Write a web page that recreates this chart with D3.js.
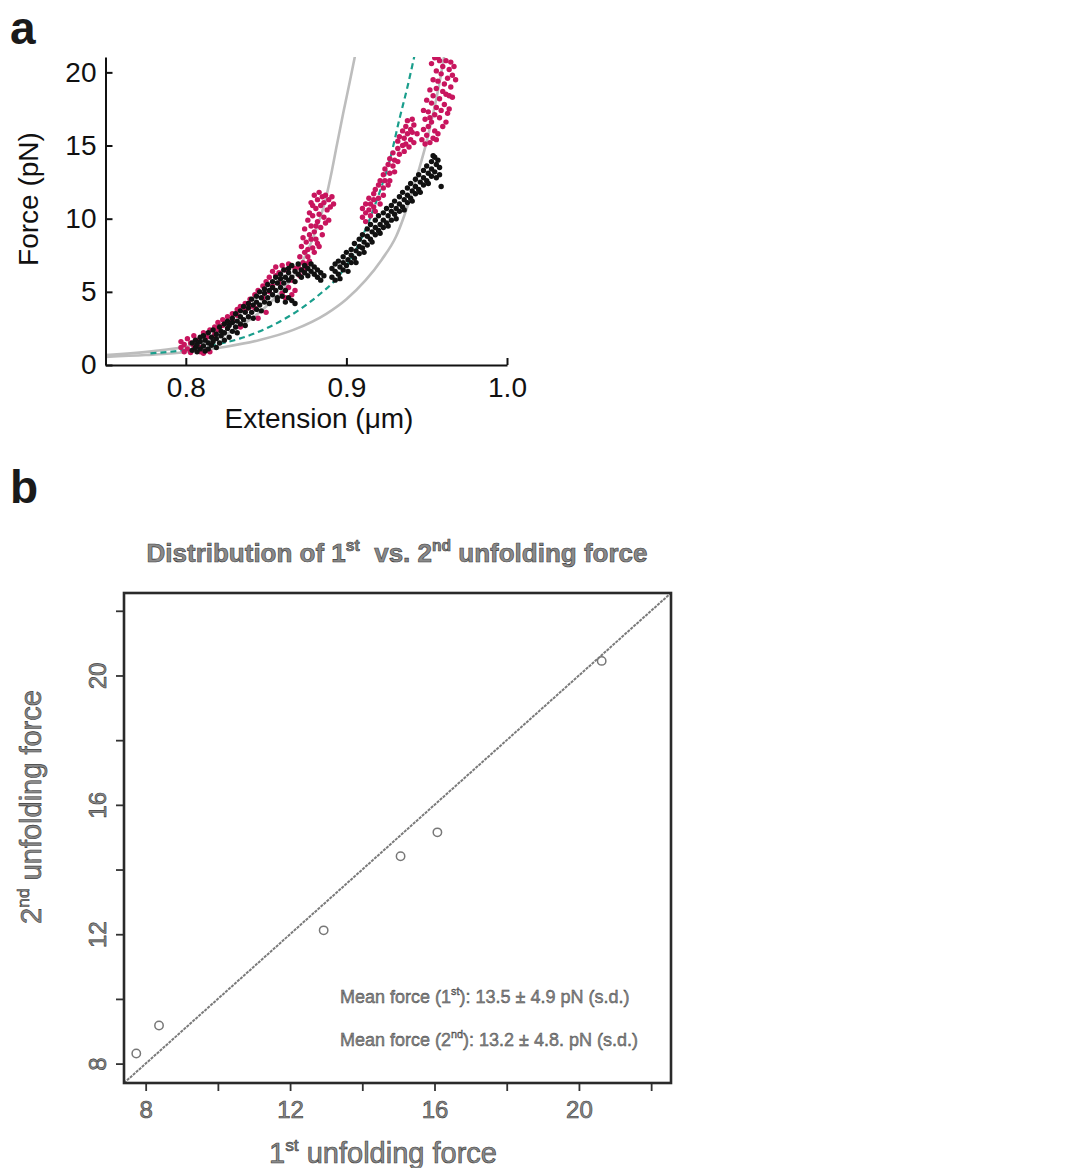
<!DOCTYPE html>
<html>
<head>
<meta charset="utf-8">
<script src="https://cdn.jsdelivr.net/npm/d3@7"></script>
<style>
  body { margin: 0; background: #fff; }
  svg text { font-family: "Liberation Sans", Arial, sans-serif; white-space: pre; }
</style>
</head>
<body>
<script>
// ---- panel a : force vs extension ----
var extTicks = [0.8, 0.9, 1.0];
var forceTicks = [0, 5, 10, 15, 20];

// worm-like-chain curves and dashed fit
var wlcLeft = [[0.75,0.68],[0.78,0.95],[0.80,1.25],[0.81,1.5],[0.82,1.85],[0.83,2.4],[0.84,3.1],[0.85,4.0],
  [0.86,5.1],[0.868,6.2],[0.875,7.6],[0.881,9.2],[0.887,11.3],[0.891,13.3],[0.894,15.0],[0.898,17.2],
  [0.902,19.3],[0.9055,21.2]];
var wlcRight = [[0.75,0.55],[0.775,0.68],[0.796,0.84],[0.825,1.25],[0.846,1.71],[0.867,2.4],[0.8875,3.5],
  [0.90,4.5],[0.912,5.8],[0.922,7.2],[0.931,8.8],[0.94,11.5],[0.945,13.3],[0.9498,15.2],[0.953,16.7],
  [0.956,18.2],[0.9585,19.6],[0.961,21.2]];
var fitDashed = [[0.778,0.8],[0.79,0.9],[0.8044,1.1],[0.821,1.45],[0.8335,1.8],[0.852,2.6],[0.871,3.8],
  [0.883,4.8],[0.893,5.8],[0.903,7.3],[0.912,9.3],[0.92,11.6],[0.927,14.0],[0.933,16.8],[0.938,19.0],[0.9425,21.2]];

// pulling traces (magenta) and relaxing traces (black), [extension, force]
var pinkTrace1 = [[0.797,1.6],[0.797,1.2],[0.799,1.4],[0.799,0.9],[0.801,1.8],[0.801,1.1],[0.803,0.85],
  [0.803,1.5],[0.805,2.0],[0.805,1.3],[0.807,1.7],[0.809,0.9],[0.809,1.2],[0.811,0.8],[0.811,2.2],
  [0.813,1.0],[0.813,1.9],[0.815,2.4],[0.815,0.9],[0.818,2.1],[0.818,2.6],[0.820,2.9],[0.820,2.4],
  [0.823,2.7],[0.823,3.1],[0.826,3.3],[0.826,2.9],[0.829,3.5],[0.829,3.0],[0.832,3.8],[0.832,3.4],
  [0.834,2.6],[0.834,4.0],[0.837,4.2],[0.837,3.7],[0.840,4.5],[0.840,4.0],[0.843,4.8],[0.843,3.9],
  [0.845,3.2],[0.845,5.1],[0.848,5.4],[0.848,4.6],[0.850,3.6],[0.850,5.7],[0.852,6.0],[0.852,5.0],
  [0.854,6.4],[0.854,5.4],[0.856,6.7],[0.856,6.1],[0.858,6.3],[0.858,5.6],[0.860,6.8],[0.860,4.9],
  [0.862,6.5],[0.862,4.6],[0.864,5.3],[0.864,6.9],[0.866,4.8],[0.866,5.8],[0.868,5.1],[0.868,6.6],
  [0.870,6.7],[0.871,7.4],[0.872,6.5],[0.872,8.1],[0.873,7.0],[0.873,8.7],[0.874,7.7],[0.874,9.3],
  [0.875,6.9],[0.875,8.4],[0.876,9.9],[0.876,7.4],[0.877,10.4],[0.877,8.9],[0.878,9.5],[0.878,11.1],
  [0.879,8.0],[0.879,10.2],[0.880,11.6],[0.880,9.1],[0.881,10.7],[0.881,8.6],[0.882,11.3],[0.882,9.8],
  [0.883,10.3],[0.883,11.8],[0.884,9.4],[0.884,10.9],[0.885,11.5],[0.885,8.9],[0.886,10.1],[0.886,11.1],
  [0.887,9.7],[0.887,11.6],[0.888,10.6],[0.889,11.3],[0.889,9.9],[0.890,10.8],[0.891,11.5],[0.892,11.0],
  [0.876,7.9],[0.878,8.6],[0.880,7.7],[0.882,8.3],[0.871,6.1],[0.874,6.6],[0.877,7.1],[0.879,10.9],
  [0.881,9.5],[0.883,8.1]];
var pinkTrace2 = [[0.910,10.1],[0.910,10.7],[0.912,9.8],[0.912,11.0],[0.912,10.4],[0.914,10.6],[0.914,11.4],
  [0.915,10.2],[0.915,11.0],[0.917,11.7],[0.917,10.8],[0.917,11.3],[0.918,10.5],[0.918,12.0],[0.920,11.4],
  [0.920,12.3],[0.921,11.0],[0.921,12.6],[0.923,12.1],[0.923,13.0],[0.923,11.6],[0.924,12.6],[0.924,13.4],
  [0.926,12.3],[0.926,13.7],[0.927,13.1],[0.927,14.1],[0.927,12.6],[0.929,13.6],[0.929,14.5],[0.930,13.2],
  [0.930,14.0],[0.932,14.8],[0.932,13.9],[0.932,15.3],[0.933,14.4],[0.933,15.6],[0.935,15.0],[0.935,16.0],
  [0.936,14.6],[0.936,15.5],[0.937,16.3],[0.937,15.1],[0.938,15.8],[0.938,16.7],[0.940,16.1],[0.940,15.4],
  [0.941,16.8],[0.941,15.9],[0.942,16.4],[0.942,15.2],[0.939,14.9],[0.944,15.8]];
var pinkTrace3 = [[0.947,15.4],[0.948,16.1],[0.949,15.1],[0.949,16.8],[0.950,15.7],[0.951,17.3],[0.951,16.3],
  [0.952,15.2],[0.953,17.9],[0.953,16.6],[0.954,15.5],[0.954,18.4],[0.955,17.1],[0.955,16.0],[0.956,18.9],
  [0.956,17.6],[0.957,15.8],[0.957,19.4],[0.958,18.2],[0.958,16.9],[0.959,19.9],[0.959,17.4],[0.960,18.7],
  [0.960,20.4],[0.961,19.2],[0.961,17.8],[0.962,20.8],[0.962,18.5],[0.963,19.6],[0.963,17.2],[0.964,20.2],
  [0.964,18.4],[0.965,19.0],[0.965,20.7],[0.966,19.8],[0.966,18.3],[0.967,20.4],[0.968,19.5],[0.950,18.1],
  [0.952,18.8],[0.954,19.5],[0.956,20.1],[0.958,20.8],[0.952,16.9],[0.956,15.4],[0.960,16.3],[0.962,16.6],
  [0.964,17.5],[0.948,17.4],[0.957,21.0],[0.953,20.6],[0.955,21.0]];
var blackTrace1 = [[0.804,1.0],[0.804,1.5],[0.806,1.7],[0.806,1.2],[0.807,0.9],[0.807,1.4],[0.809,1.9],
  [0.809,1.1],[0.809,1.6],[0.811,1.3],[0.811,2.0],[0.812,0.95],[0.812,1.7],[0.814,1.5],[0.814,2.2],
  [0.814,1.1],[0.816,1.9],[0.816,1.35],[0.817,2.4],[0.817,1.6],[0.819,1.2],[0.819,2.1],[0.819,1.8],
  [0.821,2.6],[0.821,1.5],[0.822,2.0],[0.822,2.3],[0.824,1.7],[0.824,2.8],[0.824,2.2],[0.826,2.5],
  [0.826,3.0],[0.827,1.9],[0.827,2.7],[0.829,3.2],[0.829,2.3],[0.829,2.9],[0.831,2.6],[0.831,3.5],
  [0.832,3.0],[0.832,2.2],[0.834,3.7],[0.834,2.8],[0.834,3.3],[0.836,3.1],[0.836,4.0],[0.837,2.7],
  [0.837,3.6],[0.839,4.2],[0.839,3.3],[0.839,3.9],[0.841,3.6],[0.841,4.5],[0.842,3.2],[0.842,4.1],
  [0.844,4.7],[0.844,3.8],[0.844,4.3],[0.846,4.1],[0.846,5.0],[0.847,3.7],[0.847,4.6],[0.849,5.2],
  [0.849,4.3],[0.849,4.9],[0.851,4.6],[0.851,5.5],[0.852,4.2],[0.852,5.1],[0.854,5.7],[0.854,4.8],
  [0.854,5.3],[0.856,5.1],[0.856,6.0],[0.857,4.6],[0.857,5.6],[0.859,6.2],[0.859,5.3],[0.859,5.9],
  [0.861,5.6],[0.861,6.5],[0.862,5.1],[0.862,6.0],[0.864,6.6],[0.864,5.8],[0.864,6.3],[0.866,6.0],
  [0.866,6.8],[0.868,6.4],[0.868,5.7],[0.870,6.9],[0.870,6.2],[0.872,6.5],[0.872,6.0],[0.874,6.8],
  [0.874,6.3],[0.876,6.1],[0.876,6.6],[0.878,6.9],[0.878,6.4],[0.880,6.2],[0.880,6.7],[0.882,6.0],
  [0.882,6.5],[0.884,6.3],[0.884,5.8],[0.886,6.1],[0.857,4.4],[0.860,4.7],[0.862,4.3],[0.864,4.6],
  [0.866,4.4],[0.868,4.2]];
var blackTrace2 = [[0.891,6.0],[0.891,6.6],[0.893,6.9],[0.893,5.8],[0.893,6.4],[0.895,6.2],[0.895,7.1],
  [0.896,6.7],[0.896,5.9],[0.898,7.4],[0.898,6.5],[0.898,7.0],[0.900,6.8],[0.900,7.7],[0.901,7.2],
  [0.901,6.4],[0.903,7.9],[0.903,7.0],[0.903,7.5],[0.905,7.3],[0.905,8.3],[0.906,7.8],[0.906,7.0],
  [0.908,8.6],[0.908,7.6],[0.908,8.1],[0.910,8.0],[0.910,8.9],[0.911,8.4],[0.911,7.7],[0.913,9.3],
  [0.913,8.2],[0.913,8.8],[0.915,8.6],[0.915,9.6],[0.916,9.1],[0.916,8.4],[0.918,9.9],[0.918,8.9],
  [0.918,9.4],[0.920,9.2],[0.920,10.2],[0.921,9.6],[0.921,9.0],[0.923,10.4],[0.923,9.4],[0.923,9.9],
  [0.925,9.7],[0.925,10.7],[0.926,10.2],[0.926,9.5],[0.928,10.9],[0.928,9.9],[0.928,10.5],[0.930,10.3],
  [0.930,11.2],[0.931,10.7],[0.931,10.0],[0.933,11.5],[0.933,10.5],[0.933,11.0],[0.935,10.8],[0.935,11.8],
  [0.936,11.3],[0.936,10.6],[0.938,12.1],[0.938,11.1],[0.938,11.6],[0.940,11.4],[0.940,12.4],[0.941,11.9],
  [0.941,11.2],[0.943,12.7],[0.943,11.7],[0.943,12.2],[0.945,12.0],[0.945,13.0],[0.946,12.5],[0.946,11.8],
  [0.948,13.3],[0.948,12.3],[0.948,12.8],[0.950,12.6],[0.950,13.6],[0.951,13.1],[0.951,12.4],[0.953,13.9],
  [0.953,12.9],[0.953,13.4],[0.955,13.2],[0.955,14.2],[0.956,13.7],[0.956,12.8],[0.958,13.0],[0.958,13.5],
  [0.959,12.2],[0.957,14.0],[0.954,14.3]];

// ---- panel b : 1st vs 2nd unfolding force ----
var firstForce = [7.74, 8.37, 12.93, 15.06, 16.08, 20.63];
var secondForce = [8.31, 9.18, 12.12, 14.41, 15.15, 20.45];
var bTicks = [8, 10, 12, 14, 16, 18, 20, 22];
var bLabels = [8, 12, 16, 20];
var diagEnds = [7.4, 22.55];

var W = 1080, H = 1168;
var pink = '#c8155e';
var ink = '#111';
var fadedFill = '#8a8a8a';
var fadedEdge = '#3a3a3a';

var svg = d3.select('body').append('svg')
  .attr('width', W)
  .attr('height', H);

svg.append('rect').attr('width', W).attr('height', H).style('fill', '#fff');

// tiny helper for text with superscripts: parts = [[text, isSup], ...]
var richText = function(sel, parts, size) {
  var lift = Math.round(size * 0.42);
  var raised = false;
  parts.forEach(function(p) {
    var t = sel.append('tspan').text(p[0]);
    if(p[1]) { t.attr('font-size', size * 0.6); }
    if(p[1] && !raised) { t.attr('dy', -lift); raised = true; }
    else if(!p[1] && raised) { t.attr('dy', lift); raised = false; }
  });
};

var drawPanelA = function() {
  var x = d3.scaleLinear().domain([0.75, 1.0]).range([105.5, 507]);
  var y = d3.scaleLinear().domain([0, 21.05]).range([365, 57]);

  svg.append('text')
    .attr('x', 10).attr('y', 44)
    .attr('font-size', 46).attr('font-weight', 'bold')
    .style('fill', '#1a1a1a')
    .text('a');

  svg.append('defs').append('clipPath').attr('id', 'clipA')
    .append('rect')
    .attr('x', x.range()[0]).attr('y', y.range()[1])
    .attr('width', x.range()[1] - x.range()[0])
    .attr('height', y.range()[0] - y.range()[1]);

  var plot = svg.append('g').attr('clip-path', 'url(#clipA)');

  var line = d3.line()
    .x(function(d) { return x(d[0]); })
    .y(function(d) { return y(d[1]); })
    .curve(d3.curveMonotoneX);

  [wlcLeft, wlcRight].forEach(function(c) {
    plot.append('path')
      .attr('d', line(c))
      .style('fill', 'none')
      .style('stroke', '#bdbdbd')
      .style('stroke-width', 2.6);
  });

  plot.append('path')
    .attr('d', line(fitDashed))
    .style('fill', 'none')
    .style('stroke', '#1a9e8c')
    .style('stroke-width', 2.2)
    .style('stroke-dasharray', '6,4');

  var dots = function(pts, color) {
    plot.append('g').selectAll('circle')
      .data(pts)
      .enter()
      .append('circle')
      .attr('cx', function(d) { return x(d[0]); })
      .attr('cy', function(d) { return y(d[1]); })
      .attr('r', 2.7)
      .style('fill', color);
  };
  dots(pinkTrace1, pink);
  dots(pinkTrace2, pink);
  dots(pinkTrace3, pink);
  dots(blackTrace1, ink);
  dots(blackTrace2, ink);

  var yAxis = svg.append('g')
    .attr('transform', 'translate(' + x.range()[0] + ',0)')
    .call(d3.axisLeft(y).tickValues(forceTicks).tickSizeInner(-7).tickSizeOuter(0).tickPadding(9));
  var xAxis = svg.append('g')
    .attr('transform', 'translate(0,' + y.range()[0] + ')')
    .call(d3.axisBottom(x).tickValues(extTicks).tickFormat(d3.format('.1f'))
      .tickSizeInner(-7).tickSizeOuter(0).tickPadding(12));

  [xAxis, yAxis].forEach(function(a) {
    a.selectAll('path, line').style('stroke', ink).style('stroke-width', 2);
    a.selectAll('text').attr('font-size', 28).style('fill', ink)
      .style('font-family', '"Liberation Sans", Arial, sans-serif');
  });

  svg.append('text')
    .attr('x', 319).attr('y', 428)
    .attr('text-anchor', 'middle')
    .attr('font-size', 28)
    .style('fill', ink)
    .text('Extension (\u03bcm)');

  svg.append('text')
    .attr('transform', 'translate(38,199) rotate(-90)')
    .attr('text-anchor', 'middle')
    .attr('font-size', 28)
    .style('fill', ink)
    .text('Force (pN)');
};

var drawPanelB = function() {
  var x = d3.scaleLinear().domain(diagEnds).range([124, 671]);
  var y = d3.scaleLinear().domain(diagEnds).range([1083, 593]);

  svg.append('text')
    .attr('x', 10).attr('y', 503)
    .attr('font-size', 46).attr('font-weight', 'bold')
    .style('fill', '#1a1a1a')
    .text('b');

  var faded = function(sel, size) {
    return sel.attr('font-size', size)
      .style('fill', fadedFill)
      .style('stroke', fadedEdge)
      .style('stroke-width', 0.6);
  };

  var title = svg.append('text')
    .attr('x', 397).attr('y', 562)
    .attr('text-anchor', 'middle')
    .attr('font-weight', 'bold');
  faded(title, 26);
  richText(title, [['Distribution of 1', false], ['st', true], ['  vs. 2', false], ['nd', true], [' unfolding force', false]], 26);

  // y = x reference line
  svg.append('line')
    .attr('x1', x(diagEnds[0])).attr('y1', y(diagEnds[0]))
    .attr('x2', x(diagEnds[1])).attr('y2', y(diagEnds[1]))
    .style('stroke', '#7a7a7a')
    .style('stroke-width', 2)
    .style('stroke-dasharray', '3,1');

  svg.append('g').selectAll('circle')
    .data(firstForce)
    .enter()
    .append('circle')
    .attr('cx', function(d) { return x(d); })
    .attr('cy', function(d, i) { return y(secondForce[i]); })
    .attr('r', 4.2)
    .style('fill', 'none')
    .style('stroke', '#777')
    .style('stroke-width', 1.5);

  var fmt = function(d) { return bLabels.indexOf(d) >= 0 ? d : ''; };

  var xAxis = svg.append('g')
    .attr('transform', 'translate(0,' + y.range()[0] + ')')
    .call(d3.axisBottom(x).tickValues(bTicks).tickFormat(fmt).tickSizeInner(8).tickSizeOuter(0).tickPadding(10));
  var yAxis = svg.append('g')
    .attr('transform', 'translate(' + x.range()[0] + ',0)')
    .call(d3.axisLeft(y).tickValues(bTicks).tickFormat(fmt).tickSizeInner(8).tickSizeOuter(0));

  yAxis.selectAll('.tick text')
    .attr('x', null).attr('dy', null)
    .attr('text-anchor', 'middle')
    .attr('transform', 'translate(-18,0) rotate(-90)');

  [xAxis, yAxis].forEach(function(a) {
    a.select('.domain').remove();
    a.selectAll('line').style('stroke', '#333').style('stroke-width', 1.8);
    faded(a.selectAll('text'), 24)
      .style('font-family', '"Liberation Sans", Arial, sans-serif');
  });

  svg.append('rect')
    .attr('x', x.range()[0]).attr('y', y.range()[1])
    .attr('width', x.range()[1] - x.range()[0])
    .attr('height', y.range()[0] - y.range()[1])
    .style('fill', 'none')
    .style('stroke', '#2a2a2a')
    .style('stroke-width', 2.6);

  var note1 = svg.append('text').attr('x', 340).attr('y', 1003);
  faded(note1, 18).style('stroke-width', 0.4);
  richText(note1, [['Mean force (1', false], ['st', true], ['): 13.5 \u00b1 4.9 pN (s.d.)', false]], 18);

  var note2 = svg.append('text').attr('x', 340).attr('y', 1046);
  faded(note2, 18).style('stroke-width', 0.4);
  richText(note2, [['Mean force (2', false], ['nd', true], ['): 13.2 \u00b1 4.8. pN (s.d.)', false]], 18);

  var xLab = svg.append('text')
    .attr('x', 383).attr('y', 1163)
    .attr('text-anchor', 'middle');
  faded(xLab, 29);
  richText(xLab, [['1', false], ['st', true], [' unfolding force', false]], 29);

  var yLab = svg.append('text')
    .attr('transform', 'translate(41,807) rotate(-90)')
    .attr('text-anchor', 'middle');
  faded(yLab, 29);
  richText(yLab, [['2', false], ['nd', true], [' unfolding force', false]], 29);
};

drawPanelA();
drawPanelB();
</script>
</body>
</html>
